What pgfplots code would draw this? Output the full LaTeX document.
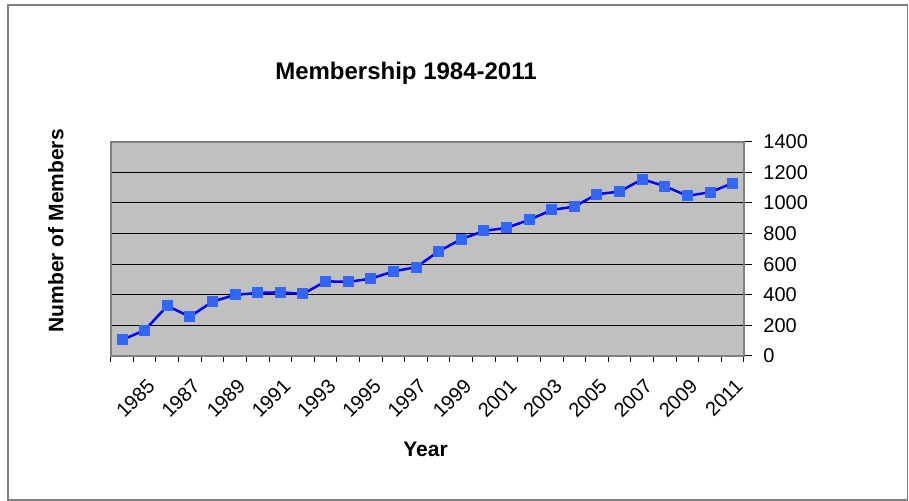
\documentclass[border=0pt]{standalone}
\usepackage{pgfplots}
\pgfplotsset{compat=1.18}
\usepackage{fontspec}
\setmainfont{Liberation Sans}

\definecolor{plotgray}{HTML}{C0C0C0}
\definecolor{framegray}{HTML}{808080}
\definecolor{lineblue}{HTML}{0000FF}
\definecolor{markblue}{HTML}{3366FF}

\begin{document}
\begin{tikzpicture}
% page = 909 x 501 px, 1 px = 0.5pt
\useasboundingbox (0,0) rectangle (454.5pt,250.5pt);
\draw[framegray, line width=0.75pt] (4pt,0.5pt) rectangle (453.75pt,248pt);

\begin{axis}[
    at={(55.35pt,72.5pt)}, anchor=south west,
    scale only axis,
    width=316.65pt, height=107.15pt,
    xmin=1983.5, xmax=2011.5,
    ymin=0, ymax=1400,
    xtick={1985,1987,...,2011},
    minor xtick={1983.5,1984.5,...,2011.5},
    ytick={0,200,...,1400},
    xtick pos=bottom, ytick pos=right,
    yticklabel pos=right,
    tick align=outside,
    major tick length=4pt,
    minor tick length=3pt,
    major x tick style={draw=none},
    minor x tick style={draw=black, line width=0.5pt},
    ytick style={black, line width=0.5pt},
    ymajorgrids=true,
    grid style={black, line width=0.5pt},
    axis line style={framegray, line width=1pt},
    axis background/.style={fill=plotgray},
    tick label style={font=\fontsize{10}{12}\selectfont},
    /pgf/number format/assume math mode=true,
    /pgf/number format/1000 sep={},
    xticklabel style={inner sep=0pt, xshift=0.75pt, yshift=-6.5pt, rotate=45, anchor=north east},
    yticklabel style={inner sep=0pt, anchor=west, xshift=5.5pt},
]
\addplot[lineblue, line width=1.25pt, mark=square*,
    mark options={markblue, draw=markblue, mark size=2.5pt, line width=0pt}]
coordinates {
    (1984,105)
    (1985,168)
    (1986,327)
    (1987,257)
    (1988,355)
    (1989,399)
    (1990,412)
    (1991,416)
    (1992,405)
    (1993,488)
    (1994,484)
    (1995,505)
    (1996,553)
    (1997,580)
    (1998,684)
    (1999,763)
    (2000,817)
    (2001,837)
    (2002,889)
    (2003,954)
    (2004,976)
    (2005,1057)
    (2006,1074)
    (2007,1155)
    (2008,1109)
    (2009,1046)
    (2010,1070)
    (2011,1129)
};
\end{axis}

\node[anchor=base, font=\fontsize{12}{14}\selectfont\bfseries] at (203pt,210.5pt) {Membership 1984-2011};
\node[anchor=base, font=\fontsize{10.5}{12}\selectfont\bfseries] at (212.75pt,22.15pt) {Year};
\node[anchor=base, rotate=90, font=\fontsize{10.5}{12}\selectfont\bfseries] at (31.65pt,135.15pt) {Number of Members};
\end{tikzpicture}
\end{document}
